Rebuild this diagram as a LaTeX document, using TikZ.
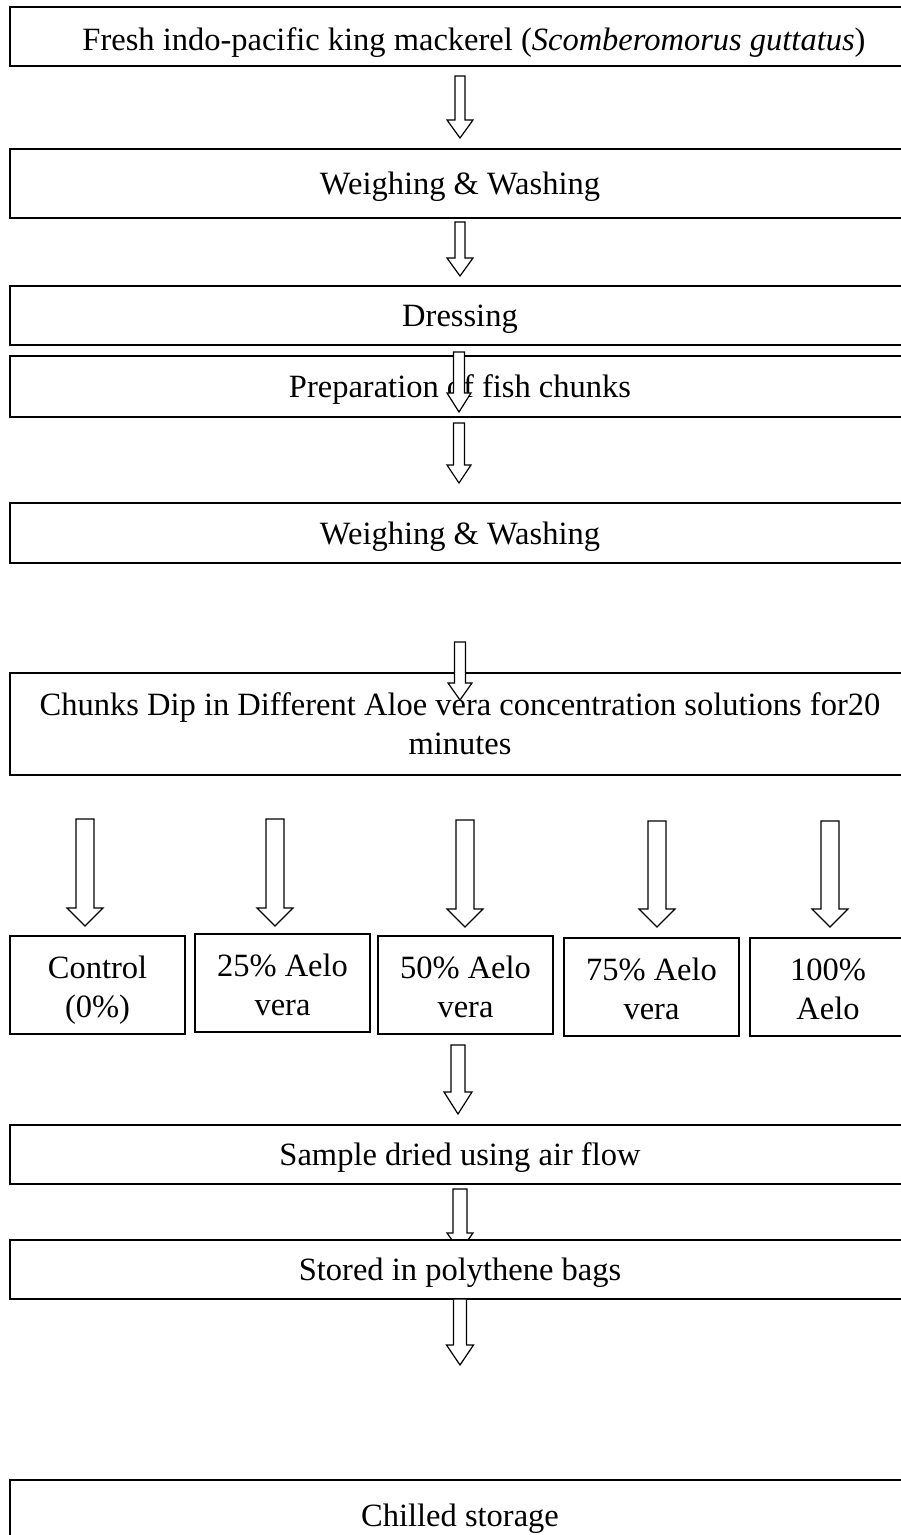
\documentclass[tikz,border=0pt]{standalone}
\usepackage{fontspec}
\setmainfont{Liberation Serif}
\usetikzlibrary{calc}
\newcommand{\twolines}[2]{\raisebox{-11.5pt}[0pt][0pt]{\begin{tabular}{@{}c@{}}#1\\#2\end{tabular}}}
\tikzset{
  stagebox/.style={draw=black, line width=1.5pt, fill=white, inner sep=0pt, outer sep=0pt,
    align=center, font=\fontsize{32.5}{39}\selectfont},
  oneline/.style={stagebox, text depth=0pt},
  treatbox/.style={draw=black, line width=1.5pt, fill=white, inner sep=0pt, outer sep=0pt,
    font=\fontsize{32.5}{39}\selectfont, minimum height=98pt},
  arrowline/.style={draw=black, line width=1.2pt, fill=white, line join=miter},
  blockarrow/.style n args={3}{to path={
    let \p1=(\tikztostart), \p2=(\tikztotarget) in
    (\x1-#1,\y1) -- (\x1+#1,\y1) -- (\x1+#1,\y2+#3) -- (\x1+#2,\y2+#3) -- (\x1,\y2)
    -- (\x1-#2,\y2+#3) -- (\x1-#1,\y2+#3) -- cycle}},
}
\begin{document}
\begin{tikzpicture}[x=1pt,y=-1pt]
\useasboundingbox (0,0) rectangle (901,1535);
\clip (0,0) rectangle (901,1535);
\fill[white] (0,0) rectangle (901,1535);

% main boxes
\node[oneline, minimum width=928pt, minimum height=59pt, text height=28pt] (b1) at (474,36.5)
  {Fresh indo-pacific king mackerel (\textit{Scomberomorus guttatus})};
\node[oneline, minimum width=900pt, minimum height=69pt] (b2) at (460,183.5) {Weighing \& Washing};
\node[oneline, minimum width=900pt, minimum height=59pt] (b3) at (460,315.5) {Dressing};
\node[oneline, minimum width=900pt, minimum height=61pt] (b4) at (460,386.5) {Preparation of fish chunks};
\node[oneline, minimum width=900pt, minimum height=60pt] (b5) at (460,533) {Weighing \& Washing};
\node[stagebox, minimum width=900pt, minimum height=102pt] (b6) at (460,724)
  {Chunks Dip in Different Aloe vera concentration solutions for20\\minutes};

% treatment boxes
\node[treatbox, minimum width=175pt] (c1) at (97.5,985) {\twolines{Control}{(0\%)}};
\node[treatbox, minimum width=175pt] (c2) at (282.5,983) {\twolines{25\% Aelo}{vera}};
\node[treatbox, minimum width=175pt] (c3) at (465.5,985) {\twolines{50\% Aelo}{vera}};
\node[treatbox, minimum width=175pt] (c4) at (651.5,987) {\twolines{75\% Aelo}{vera}};
\node[treatbox, minimum width=156pt] (c5) at (828,987) {\twolines{100\%}{Aelo}};

\node[oneline, minimum width=900pt, minimum height=59pt] (b7) at (460,1154.5) {Sample dried using air flow};

% arrow end points
\coordinate (a1s) at (460,76);   \coordinate (a1e) at (460,138);
\coordinate (a2s) at (460,222);  \coordinate (a2e) at (460,276);
\coordinate (a3s) at (459,352);  \coordinate (a3e) at (459,412);
\coordinate (a4s) at (459,423);  \coordinate (a4e) at (459,483);
\coordinate (a5s) at (460,642);  \coordinate (a5e) at (460,700);
\coordinate (t1s) at (85,819);   \coordinate (t1e) at (85,926);
\coordinate (t2s) at (275,819);  \coordinate (t2e) at (275,926);
\coordinate (t3s) at (465,820);  \coordinate (t3e) at (465,927);
\coordinate (t4s) at (657,821);  \coordinate (t4e) at (657,927);
\coordinate (t5s) at (830,821);  \coordinate (t5e) at (830,927);
\coordinate (a7s) at (458,1045); \coordinate (a7e) at (458,1114);
\coordinate (a8s) at (460,1189); \coordinate (a8e) at (460,1251);
\coordinate (a9s) at (460,1299); \coordinate (a9e) at (460,1365);

\draw[arrowline] (a1s) to[blockarrow={5pt}{13pt}{18pt}] (a1e);
\draw[arrowline] (a2s) to[blockarrow={5pt}{13pt}{18pt}] (a2e);
\draw[arrowline] (a3s) to[blockarrow={5.5pt}{12pt}{19pt}] (a3e);
\draw[arrowline] (a4s) to[blockarrow={5.5pt}{12pt}{18pt}] (a4e);
\draw[arrowline] (a5s) to[blockarrow={5.5pt}{12pt}{17pt}] (a5e);
\foreach \k in {1,...,5}
  \draw[arrowline] (t\k s) to[blockarrow={9pt}{18pt}{18pt}] (t\k e);
\draw[arrowline] (a7s) to[blockarrow={7pt}{14pt}{22pt}] (a7e);
\draw[arrowline] (a8s) to[blockarrow={7pt}{13pt}{18pt}] (a8e);

\node[oneline, minimum width=900pt, minimum height=59pt] (b8) at (460,1269.5) {Stored in polythene bags};
\draw[arrowline] (a9s) to[blockarrow={6.5pt}{13.5pt}{20pt}] (a9e);
\node[oneline, minimum width=900pt, minimum height=70pt] (b9) at (460,1515) {Chilled storage};
\end{tikzpicture}
\end{document}
